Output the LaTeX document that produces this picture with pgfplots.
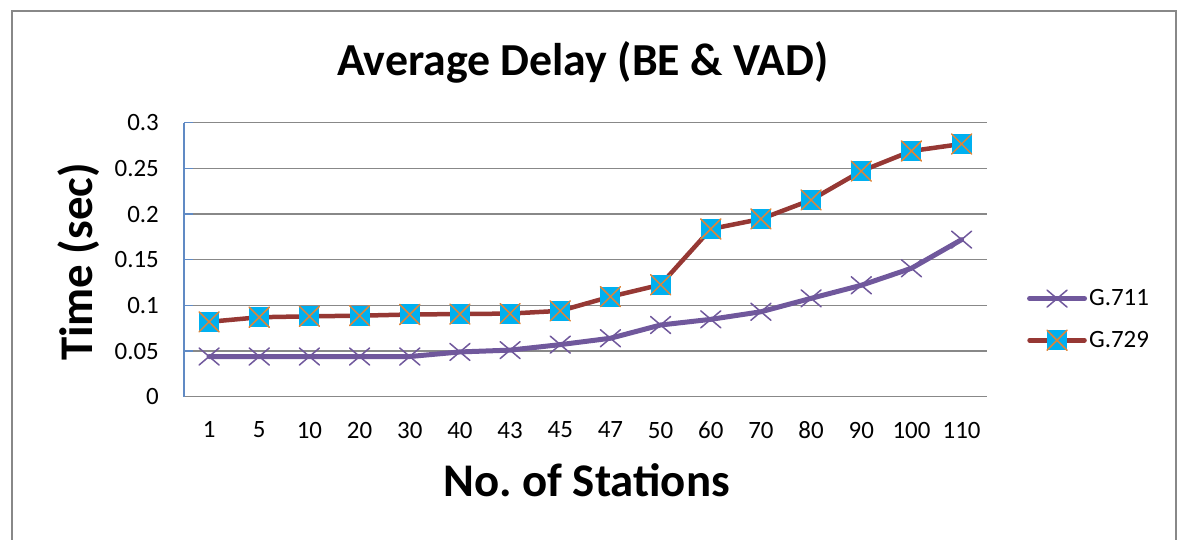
\documentclass[border=0pt]{standalone}
\usepackage{pgfplots}
\pgfplotsset{compat=1.18}
\usepackage{fontspec}
\setmainfont{Carlito}
\definecolor{cpurple}{RGB}{112,88,156}
\definecolor{cred}{RGB}{150,56,52}
\definecolor{ccyan}{RGB}{0,176,240}
\definecolor{corange}{RGB}{222,132,56}
\definecolor{cgrid}{RGB}{136,136,136}
\definecolor{caxis}{RGB}{96,138,196}
\pgfdeclareplotmark{sqx}{%
  \pgfpathrectangle{\pgfpoint{-\pgfplotmarksize}{-\pgfplotmarksize}}{\pgfpoint{2\pgfplotmarksize}{2\pgfplotmarksize}}%
  \pgfsetfillcolor{ccyan}\pgfusepathqfill
  \pgfsetstrokecolor{corange}\pgfsetlinewidth{1.5bp}%
  \pgfpathmoveto{\pgfpoint{-\pgfplotmarksize}{-\pgfplotmarksize}}\pgfpathlineto{\pgfpoint{\pgfplotmarksize}{\pgfplotmarksize}}%
  \pgfpathmoveto{\pgfpoint{-\pgfplotmarksize}{\pgfplotmarksize}}\pgfpathlineto{\pgfpoint{\pgfplotmarksize}{-\pgfplotmarksize}}%
  \pgfusepathqstroke}
\pgfdeclareplotmark{px}{%
  \pgfsetstrokecolor{cpurple}\pgfsetlinewidth{1.5bp}%
  \pgfpathmoveto{\pgfpoint{-\pgfplotmarksize}{-0.85\pgfplotmarksize}}\pgfpathlineto{\pgfpoint{\pgfplotmarksize}{0.85\pgfplotmarksize}}%
  \pgfpathmoveto{\pgfpoint{-\pgfplotmarksize}{0.85\pgfplotmarksize}}\pgfpathlineto{\pgfpoint{\pgfplotmarksize}{-0.85\pgfplotmarksize}}%
  \pgfusepathqstroke}
\begin{document}
\begin{tikzpicture}
\path[use as bounding box] (0,0) rectangle (1181bp,540bp);
\draw[cgrid, line width=1.5bp] (12bp,0) -- (12bp,529bp) -- (1176bp,529bp) -- (1176bp,0);
\begin{axis}[
  at={(184bp,143.3bp)}, anchor=south west,
  scale only axis, width=802.7bp, height=274bp,
  xmin=-0.5, xmax=15.5, ymin=0, ymax=0.3,
  xtick={0,...,15},
  xticklabels={1,5,10,20,30,40,43,45,47,50,60,70,80,90,100,110},
  ytick={0,0.05,0.1,0.15,0.2,0.25,0.3},
  yticklabels={0,0.05,0.1,0.15,0.2,0.25,0.3},
  axis x line*=bottom, axis y line*=left,
  x axis line style={cgrid, line width=1.5bp, -},
  y axis line style={caxis, line width=1.5bp, -},
  xtick style={draw=none},
  ytick style={caxis, line width=1.5bp},
  tick align=inside, major tick length=9bp,
  ymajorgrids, grid style={cgrid, line width=1.5bp},
  tick label style={font=\fontsize{25}{30}\selectfont, inner sep=0pt},
  yticklabel style={anchor=east, xshift=-25bp},
  xticklabel style={anchor=north, yshift=-25bp},
  legend style={at={(1.05,0.282)}, anchor=west, draw=none, fill=none, inner sep=0pt,
    font=\fontsize{25}{30}\selectfont, row sep=20bp, legend cell align=left},
  legend image code/.code={\draw[mark repeat=2,mark phase=2,#1] plot coordinates {(0bp,0bp) (27.5bp,0bp) (55bp,0bp)};},
  clip=false,
]
\addplot[cpurple, line width=5bp, line cap=round, line join=round, mark=px, mark size=10bp] coordinates {
(0,0.044) (1,0.044) (2,0.044) (3,0.044) (4,0.044) (5,0.049) (6,0.051) (7,0.057)
(8,0.064) (9,0.0785) (10,0.0847) (11,0.093) (12,0.1077) (13,0.122) (14,0.1406) (15,0.172)};
\addlegendentry{G.711}
\addplot[cred, line width=4.5bp, line cap=round, line join=round, mark=sqx, mark size=10bp] coordinates {
(0,0.082) (1,0.087) (2,0.088) (3,0.0887) (4,0.090) (5,0.0905) (6,0.091) (7,0.094)
(8,0.1095) (9,0.1226) (10,0.1836) (11,0.1946) (12,0.2154) (13,0.247) (14,0.269) (15,0.2767)};
\addlegendentry{G.729}
\end{axis}
\node[anchor=base, font=\fontsize{46}{55}\selectfont\bfseries, inner sep=0pt] at (583bp,464bp) {Average Delay (BE \& VAD)};
\node[anchor=base, font=\fontsize{47}{56}\selectfont\bfseries, inner sep=0pt] at (586.5bp,43bp) {No.\ of Stations};
\node[anchor=base, rotate=90, font=\fontsize{47}{56}\selectfont\bfseries, inner sep=0pt] at (92bp,278bp) {Time (sec)};
\end{tikzpicture}
\end{document}
